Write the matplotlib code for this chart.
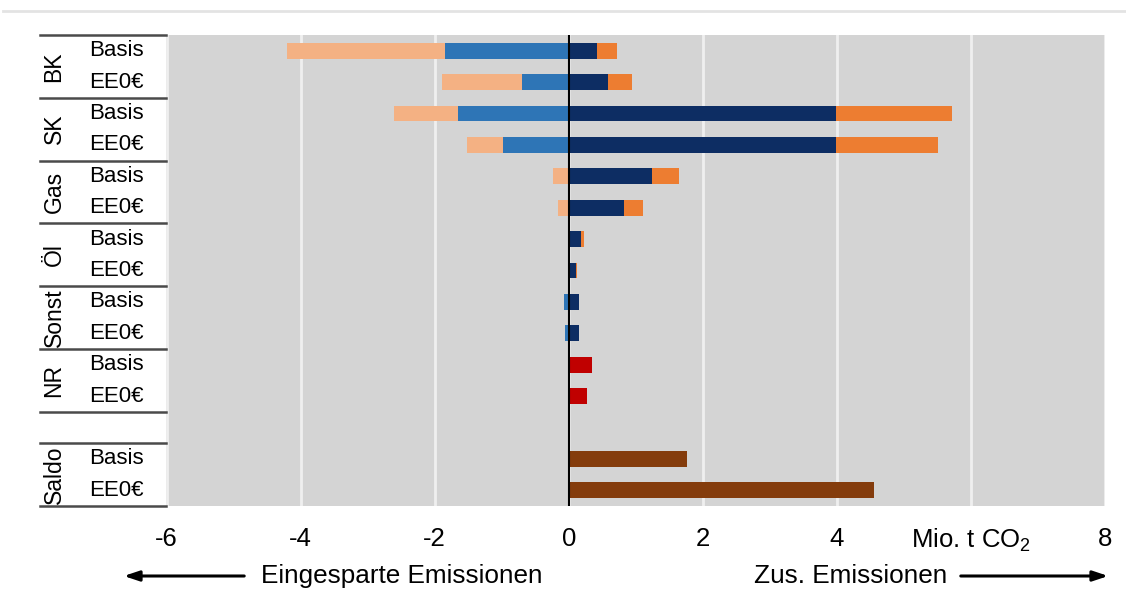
import matplotlib
matplotlib.use("Agg")
import matplotlib.pyplot as plt
import numpy as np
from matplotlib.lines import Line2D
from matplotlib.transforms import blended_transform_factory

plt.rcParams["font.family"] = ["Liberation Sans", "DejaVu Sans"]
plt.rcParams["mathtext.fontset"] = "custom"
plt.rcParams["mathtext.rm"] = "Liberation Sans"
plt.rcParams["mathtext.default"] = "regular"

# ── data (Mio. t CO2) ────────────────────────────────────────────────────────
groups = ["BK", "SK", "Gas", "Öl", "Sonst", "NR", "Saldo"]
cases = ["Basis", "EE0€"]
# rows: BK B, BK E, SK B, SK E, Gas B, Gas E, Öl B, Öl E, Sonst B, Sonst E
neg_blue = [-1.85, -0.70, -1.65, -0.98, 0.0, 0.0, 0.0, 0.0, -0.07, -0.05]
neg_light = [-2.35, -1.19, -0.96, -0.54, -0.23, -0.16, 0.0, 0.0, 0.0, 0.0]
pos_dark = [0.42, 0.59, 3.99, 3.99, 1.24, 0.82, 0.19, 0.11, 0.16, 0.15]
pos_orange = [0.30, 0.36, 1.73, 1.52, 0.41, 0.29, 0.04, 0.02, 0.0, 0.0]
nr_vals = [0.35, 0.28]
saldo_vals = [1.77, 4.55]

xticks = [-6, -4, -2, 0, 2, 4, 6, 8]
xticklabels = ["-6", "-4", "-2", "0", "2", "4", "Mio. t CO$_2$", "8"]

NAVY, ORANGE, BLUE, LIGHT = "#0d2d63", "#ed7d31", "#2e75b6", "#f4b183"
RED, BROWN, BG = "#c00000", "#843c0c", "#d4d4d4"

W, H = 1126, 606
fig = plt.figure(figsize=(W / 100, H / 100), dpi=100)
ax = fig.add_axes([166.5 / W, 1 - 506 / H, (1105 - 166.5) / W, (506 - 35) / H])
ax.set_facecolor(BG)

bh = 0.5
y_main = np.arange(10)
ax.barh(y_main, neg_blue, height=bh, color=BLUE, zorder=3)
ax.barh(y_main, neg_light, left=neg_blue, height=bh, color=LIGHT, zorder=3)
ax.barh(y_main, pos_dark, height=bh, color=NAVY, zorder=3)
ax.barh(y_main, pos_orange, left=pos_dark, height=bh, color=ORANGE, zorder=3)
ax.barh([10, 11], nr_vals, height=bh, color=RED, zorder=3)
ax.barh([13, 14], saldo_vals, height=bh, color=BROWN, zorder=3)

ax.axvline(0, color="black", lw=1.5, zorder=5)
ax.set_xlim(-6, 8)
ax.set_ylim(14.5, -0.5)
ax.set_xticks(xticks)
ax.set_xticklabels(xticklabels, fontsize=18.5)
ax.set_yticks([])
ax.tick_params(axis="x", length=0, pad=15)
ax.grid(axis="x", color="#efefef", lw=2, zorder=1)
for sp in ax.spines.values():
    sp.set_visible(False)

# ── left table ───────────────────────────────────────────────────────────────
tr = blended_transform_factory(ax.transAxes, ax.transData)
x0 = (40 - 166.5) / 938.5
for yb in [-0.5, 1.5, 3.5, 5.5, 7.5, 9.5, 11.5, 12.5, 14.5]:
    ax.add_line(Line2D([x0, 0], [yb, yb], transform=tr, color="#4a4a4a",
                       lw=1.8, clip_on=False))
group_rows = [(0, 1), (2, 3), (4, 5), (6, 7), (8, 9), (10, 11), (13, 14)]
xg = (54 - 166.5) / 938.5
xs = (89 - 166.5) / 938.5
for g, rows in zip(groups, group_rows):
    ax.text(xg, np.mean(rows), g, transform=tr, rotation=90, ha="center",
            va="center", fontsize=16.5)
    for r, c in zip(rows, cases):
        ax.text(xs, r, c, transform=tr, ha="left", va="center", fontsize=16)

# ── bottom arrows ────────────────────────────────────────────────────────────
yt = H - 576
fig.text(402 / W, yt / H, "Eingesparte Emissionen", ha="center", va="center",
         fontsize=18.8)
fig.text(851 / W, yt / H, "Zus. Emissionen", ha="center", va="center",
         fontsize=18.8)
arr = dict(arrowstyle="-|>,head_length=0.9,head_width=0.3", color="black", lw=2.2)
ax.annotate("", xy=(121, yt), xytext=(247, yt), xycoords="figure pixels",
            textcoords="figure pixels", arrowprops=arr)
ax.annotate("", xy=(1111, yt), xytext=(958, yt), xycoords="figure pixels",
            textcoords="figure pixels", arrowprops=arr)

fig.add_artist(Line2D([3 / W, 1], [1 - 11 / H, 1 - 11 / H], color="#e3e3e3", lw=2))

fig.savefig("out.png", dpi=100, facecolor="white")
